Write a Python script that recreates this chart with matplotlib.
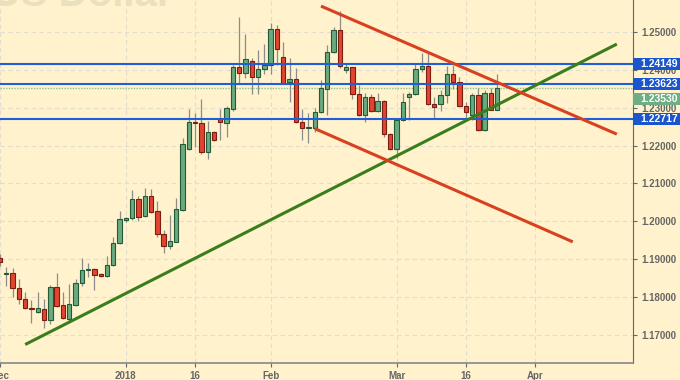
import numpy as np
import pandas as pd
import matplotlib
matplotlib.use('Agg')
import matplotlib.pyplot as plt
from matplotlib.patches import Rectangle
import matplotlib.transforms as mtransforms

plt.rcParams['font.family'] = ['Liberation Sans', 'DejaVu Sans']

# Daily EUR/USD candles, first bar on 2017-12-04 (weekdays only)
start_date = '2017-12-04'
opens = [1.19026, 1.18603, 1.18638, 1.18225, 1.17950, 1.17717, 1.17606, 1.17677, 1.17386, 1.18251,
         1.17775, 1.17413, 1.17783, 1.18357, 1.18709, 1.18728, 1.18595, 1.18550, 1.18841, 1.19415,
         1.20045, 1.20093, 1.20579, 1.20138, 1.20667, 1.20270, 1.19661, 1.19352, 1.19458, 1.20296,
         1.21918, 1.22624, 1.22606, 1.21831, 1.22368, 1.22696, 1.22606, 1.22960, 1.24071, 1.23929,
         1.24246, 1.23807, 1.24026, 1.24124, 1.25077, 1.24336, 1.23675, 1.23762, 1.22616, 1.22458,
         1.22474, 1.22897, 1.23497, 1.24484, 1.25058, 1.24000, 1.24071, 1.23357, 1.22810, 1.23294,
         1.22923, 1.23180, 1.22299, 1.21910, 1.22677, 1.23294, 1.23365, 1.24026, 1.24106, 1.23101,
         1.23101, 1.23339, 1.23894, 1.23675, 1.23048, 1.22810, 1.23339, 1.22413, 1.23392, 1.22942]
highs = [1.19132, 1.18788, 1.18762, 1.18471, 1.18135, 1.17915, 1.18127, 1.17942, 1.18312, 1.18630,
         1.18119, 1.18339, 1.18471, 1.19019, 1.18894, 1.18749, 1.18630, 1.19087, 1.19590, 1.20278,
         1.20111, 1.20825, 1.20667, 1.20886, 1.20844, 1.20534, 1.19767, 1.20164, 1.20606, 1.22193,
         1.22960, 1.22854, 1.23225, 1.22651, 1.22380, 1.22960, 1.23048, 1.24132, 1.25410, 1.24952,
         1.24309, 1.24529, 1.24680, 1.25235, 1.25190, 1.24749, 1.24310, 1.24045, 1.22968, 1.22854,
         1.22987, 1.23735, 1.24661, 1.25146, 1.25569, 1.24177, 1.24087, 1.23603, 1.23384, 1.23365,
         1.23384, 1.23206, 1.22341, 1.22696, 1.23384, 1.23426, 1.24177, 1.24458, 1.24442, 1.23294,
         1.23471, 1.24106, 1.24132, 1.23823, 1.23161, 1.23384, 1.23516, 1.23471, 1.23537, 1.23894]
lows = [1.18815, 1.18286, 1.17995, 1.17810, 1.17677, 1.17315, 1.17571, 1.17175, 1.17280, 1.17722,
        1.17413, 1.17373, 1.17757, 1.18286, 1.18516, 1.18180, 1.18524, 1.18524, 1.18815, 1.19397,
        1.19979, 1.20032, 1.20005, 1.20111, 1.20209, 1.19590, 1.19151, 1.19257, 1.19437, 1.20270,
        1.21897, 1.21971, 1.21778, 1.21653, 1.22130, 1.22148, 1.22235, 1.22915, 1.23648, 1.23780,
        1.23365, 1.23365, 1.23894, 1.23894, 1.24132, 1.23648, 1.23161, 1.22598, 1.22148, 1.22061,
        1.22368, 1.22854, 1.22810, 1.24458, 1.24045, 1.23913, 1.23225, 1.22783, 1.22616, 1.22897,
        1.22897, 1.22235, 1.21897, 1.21664, 1.22664, 1.22677, 1.23339, 1.23955, 1.23074, 1.22722,
        1.22923, 1.23135, 1.23489, 1.23029, 1.22722, 1.22677, 1.22394, 1.22394, 1.22929, 1.22930]
closes = [1.18921, 1.18643, 1.18225, 1.17934, 1.17696, 1.17677, 1.17696, 1.17386, 1.18251, 1.17765,
          1.17431, 1.17802, 1.18373, 1.18709, 1.18741, 1.18577, 1.18556, 1.18841, 1.19415, 1.20050,
          1.20085, 1.20579, 1.20119, 1.20667, 1.20251, 1.19661, 1.19352, 1.19476, 1.20315, 1.22034,
          1.22624, 1.22590, 1.21831, 1.22368, 1.22140, 1.22616, 1.22987, 1.24087, 1.23929, 1.24291,
          1.23807, 1.24026, 1.24124, 1.25077, 1.24556, 1.23664, 1.23762, 1.22616, 1.22458, 1.22500,
          1.22897, 1.23516, 1.24484, 1.25058, 1.24106, 1.24071, 1.23357, 1.22810, 1.23294, 1.22923,
          1.23180, 1.22299, 1.21910, 1.22677, 1.23145, 1.23365, 1.24026, 1.24106, 1.23101, 1.23029,
          1.23339, 1.23894, 1.23675, 1.23048, 1.22881, 1.23339, 1.22413, 1.23399, 1.22942, 1.23530]

# horizontal levels and current price
levels = [1.24149, 1.23623, 1.22717]
last_price = 1.23530

# trend lines: (start date, start price, end date, end price)
green_trend = ('2017-12-08', 1.16738, '2018-04-19', 1.24686)
red_upper = ('2018-02-13', 1.25691, '2018-04-19', 1.22303)
red_lower = ('2018-02-12', 1.22451, '2018-04-10', 1.19454)

tick_dates = ['2017-12-04', '2018-01-01', '2018-01-16', '2018-02-01', '2018-03-01', '2018-03-16', '2018-04-02']
tick_labels = ['Dec', '2018', '16', 'Feb', 'Mar', '16', 'Apr']
price_ticks = [1.17, 1.18, 1.19, 1.20, 1.21, 1.22, 1.23, 1.24, 1.25]

days = pd.bdate_range(start_date, periods=120)
pos = {d.strftime('%Y-%m-%d'): i for i, d in enumerate(days)}

bg = '#fff2cc'
fig = plt.figure(figsize=(6.8, 3.8), dpi=100, facecolor=bg)
ax = fig.add_axes([0, 17 / 380, 633 / 680, 363 / 380])
ax.set_facecolor(bg)

# watermark title, mostly cut off at the top
fig.text(173 / 680, 1 - 6 / 380, 'Euro vs US Dollar', ha='right', va='baseline',
         fontsize=29, fontweight='bold', color='#ebe0bd', zorder=0)

x = np.arange(len(opens))
o = np.array(opens); h = np.array(highs); l = np.array(lows); c = np.array(closes)
up = c >= o
ax.vlines(x, l, h, color='#8c8c8c', lw=0.9, zorder=3)
body_w = 0.7
for i in x:
    lo, hi = min(o[i], c[i]), max(o[i], c[i])
    hgt = max(hi - lo, 0.00012)
    if up[i]:
        fc, ec = '#69aa80', '#245a36'
    else:
        fc, ec = '#e2452f', '#7d1c10'
    ax.add_patch(Rectangle((i - body_w / 2, lo), body_w, hgt, facecolor=fc,
                           edgecolor=ec, lw=0.8, zorder=4))

for lv in levels:
    ax.axhline(lv, color='#1f5fdc', lw=1.5, zorder=5)
ax.axhline(last_price, color='#8cbf8c', lw=1.0, ls=(0, (1, 1)), zorder=2)

for line, col in [(green_trend, '#3a7d1c'), (red_upper, '#d8401f'), (red_lower, '#d8401f')]:
    d0, p0, d1, p1 = line
    ax.plot([pos[d0], pos[d1]], [p0, p1], color=col, lw=2.2, solid_capstyle='butt', zorder=6)

ax.set_xlim(0.25, 100.57)
ax.set_ylim(1.16249, 1.25852)

ax.set_xticks([pos[d] for d in tick_dates])
ax.set_xticklabels(tick_labels)
ax.yaxis.tick_right()
ax.set_yticks(price_ticks)
ax.set_yticklabels(['%.5f' % p for p in price_ticks])
ax.tick_params(axis='both', colors='#666666', labelsize=7, length=3, width=0.8)
for lab in ax.get_xticklabels() + ax.get_yticklabels():
    lab.set_fontweight('bold')
ax.tick_params(axis='y', pad=3)
ax.tick_params(axis='x', pad=3)
ax.grid(True, color='#e2ddd0', ls=(0, (4, 3)), lw=0.8)
ax.set_axisbelow(True)
for s in ['top', 'left']:
    ax.spines[s].set_visible(False)
ax.spines['right'].set_color('#666666')
ax.spines['bottom'].set_color('#888888')
ax.spines['bottom'].set_linewidth(1.2)

# price labels on the right axis
trans = mtransforms.blended_transform_factory(ax.transAxes, ax.transData)
box_w = 47 / 633
box_h = 12 * (1.25852 - 1.16249) / 363
label_pos = levels + [1.23233]
label_txt = ['%.5f' % v for v in levels] + ['%.5f' % last_price]
label_col = ['#1a55cc', '#1a55cc', '#1a55cc', '#6fae85']
for yv, txt, col in zip(label_pos, label_txt, label_col):
    ax.add_patch(Rectangle((1.0, yv - box_h / 2), box_w, box_h, transform=trans,
                           facecolor=col, edgecolor='none', clip_on=False, zorder=10))
    ax.text(1.0 + box_w * 0.55, yv, txt, transform=trans, ha='center', va='center',
            color='white', fontsize=7.5, fontweight='bold', clip_on=False, zorder=11)

fig.savefig('out.png', dpi=100, facecolor=bg)
